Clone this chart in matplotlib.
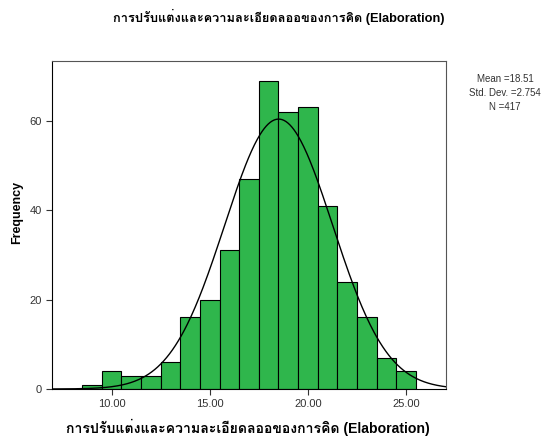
import matplotlib
matplotlib.use('Agg')
import matplotlib.pyplot as plt
import numpy as np

# histogram bins (lower edges) and counts
bin_left = [8.5, 9.5, 10.5, 11.5, 12.5, 13.5, 14.5, 15.5, 16.5, 17.5,
            18.5, 19.5, 20.5, 21.5, 22.5, 23.5, 24.5]
counts = [1, 4, 3, 3, 6, 16, 20, 31, 47, 69, 62, 63, 41, 24, 16, 7, 4]
bin_width = 1.0

mean = 18.51
sd = 2.754
n = 417

x_ticks = [10, 15, 20, 25]
x_ticklabels = ['10.00', '15.00', '20.00', '25.00']
y_ticks = [0, 20, 40, 60]

title = 'การปรับแต่งและความละเอียดลออของการคิด (Elaboration)'
# Latin from Liberation Sans, Thai glyphs fall back to Loma
thai = ['Liberation Sans', 'Loma', 'DejaVu Sans']

plt.rcParams['font.family'] = ['Liberation Sans', 'DejaVu Sans']

fig = plt.figure(figsize=(5.57, 4.38), dpi=100)
ax = fig.add_axes([0.0934, 0.1119, 0.7073, 0.7488])

ax.bar(bin_left, counts, width=bin_width, align='edge',
       color='#2fb64c', edgecolor='black', linewidth=0.8, zorder=2)

# normal curve from the printed stats
xs = np.linspace(6.96, 27.04, 400)
ys = n * bin_width / (sd * np.sqrt(2 * np.pi)) * np.exp(-0.5 * ((xs - mean) / sd) ** 2)
ax.plot(xs, ys, color='black', linewidth=1.0, zorder=3)

ax.set_xlim(6.96, 27.04)
ax.set_ylim(0, 73.4)
ax.set_xticks(x_ticks)
ax.set_xticklabels(x_ticklabels)
ax.set_yticks(y_ticks)
ax.tick_params(labelsize=8, length=4, width=0.8, colors='#333333')
for s in ax.spines.values():
    s.set_linewidth(0.8)
    s.set_color('#555555')
ax.spines['left'].set_color('black')
ax.spines['bottom'].set_color('black')

fig.text(0.50, 0.961, title, ha='center', va='center', fontsize=9.2,
         fontweight='bold', family=thai)
fig.text(0.445, 0.025, title, ha='center', va='center', fontsize=10.1,
         fontweight='bold', family=thai)
fig.text(0.031, 0.514, 'Frequency', rotation=90, ha='center', va='center',
         fontsize=9, fontweight='bold')

fig.text(0.907, 0.788, 'Mean =%.2f\nStd. Dev. =%.3f\nN =%d' % (mean, sd, n),
         ha='center', va='center', fontsize=7, linespacing=1.5, color='#333333')

fig.savefig('out.png', dpi=100)
